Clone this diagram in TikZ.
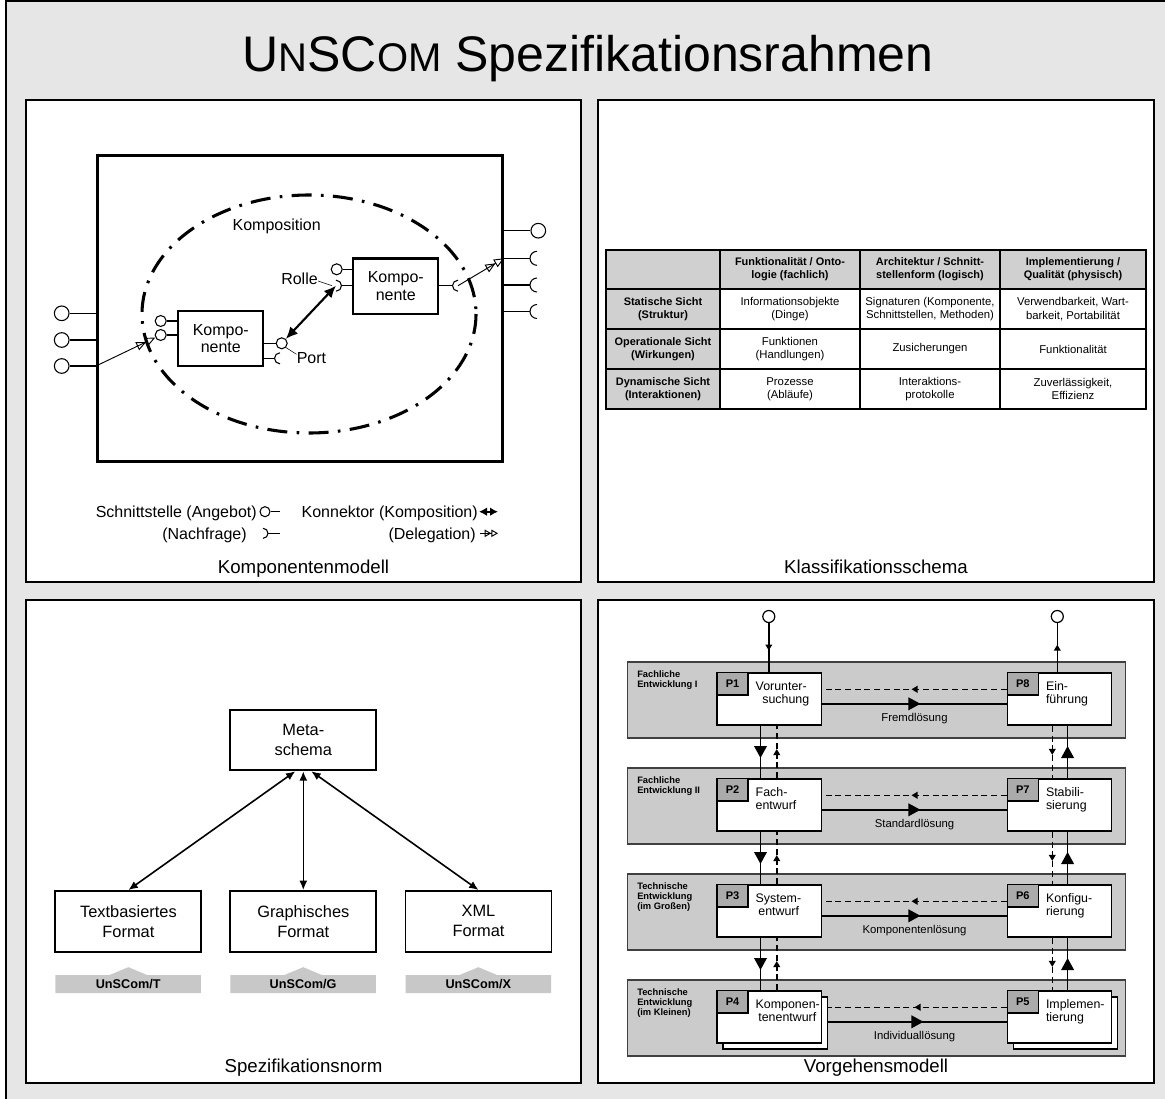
\documentclass[tikz,border=0pt]{standalone}
\usepackage{fontspec}
\setmainfont{Liberation Sans}
\usetikzlibrary{arrows.meta,decorations.markings}
\newcommand\fsz[2]{\fontsize{#1}{#2}\selectfont}
\definecolor{grund}{HTML}{E6E6E6}
\definecolor{bandgrau}{HTML}{CBCBCB}
\definecolor{reitergrau}{HTML}{ABABAB}
\definecolor{kopfgrau}{HTML}{D0D0D0}
\definecolor{balkengrau}{HTML}{C8C8C8}
\tikzset{
  panel/.style={draw=black, line width=0.9pt, fill=white},
  plabel/.style={font=\fsz{14}{16}, anchor=base, inner sep=0pt},
  % Komponentenmodell
  huelle/.style={draw, line width=2pt, minimum width=304pt, minimum height=229.5pt, inner sep=0pt},
  komp/.style={draw, line width=1.6pt, fill=white, minimum width=63.75pt, minimum height=41.5pt, align=center, font=\fsz{12}{13}, inner sep=0pt},
  aport/.style={circle, draw, line width=0.8pt, fill=white, inner sep=0pt, minimum size=11pt},
  iport/.style={aport, minimum size=8.25pt},
  legport/.style={aport, minimum size=7.5pt},
  pline/.style={line width=0.8pt},
  deleg/.style={line width=0.7pt, -{Triangle[open,length=7.5pt,width=6.5pt]Triangle[open,length=7.5pt,width=6.5pt]}},
  legdeleg/.style={line width=0.7pt, -{Triangle[open,length=5pt,width=5.5pt]Triangle[open,length=5pt,width=5.5pt]}},
  kompo/.style={line width=1.6pt, {Latex[length=9pt,width=8pt]}-{Latex[length=9pt,width=8pt]}},
  legkompo/.style={line width=1.2pt, {Latex[length=6pt,width=6.5pt]}-{Latex[length=6pt,width=6.5pt]}},
  lbl/.style={font=\fsz{12}{14}, inner sep=0pt},
  leader/.style={line width=0.4pt},
  % Klassifikationsschema
  tcell/.style={align=center, font=\fsz{8.5}{10}, inner sep=0pt},
  thead/.style={align=center, font=\bfseries\fsz{8.2}{10}, inner sep=0pt},
  % Spezifikationsnorm
  fmt/.style={draw, line width=1.4pt, fill=white, minimum width=109.5pt, minimum height=45.5pt, align=center, font=\fsz{12.3}{15}, inner sep=0pt},
  bidir/.style={line width=1.2pt, {Latex[length=7pt,width=6pt]}-{Latex[length=7pt,width=6pt]}},
  barlbl/.style={font=\bfseries\fsz{9.5}{10}, inner sep=0pt},
  % Vorgehensmodell
  bandst/.style={draw=black!75, line width=0.8pt, fill=bandgrau},
  pbox/.style={draw, fill=white, line width=1.1pt, minimum width=78.2pt, minimum height=39.3pt, inner sep=0pt},
  reiter/.style={draw, fill=reitergrau, line width=0.9pt, minimum width=23.25pt, minimum height=16.8pt, inner sep=0pt, font=\bfseries\fsz{8.3}{9}},
  ptext/.style={align=left, font=\fsz{9.3}{9.9}, inner sep=0pt, anchor=north west},
  rowlbl/.style={align=left, font=\bfseries\fsz{7}{7.75}, inner sep=0pt, anchor=north west},
  loes/.style={font=\fsz{8.5}{10}, inner sep=0pt},
  ioc/.style={circle, draw, fill=white, line width=0.9pt, minimum size=9pt, inner sep=0pt},
  midbig/.style={postaction={decorate}, decoration={markings, mark=at position 0.5 with {\arrow[xshift=4.5pt]{Triangle[length=9pt,width=9.5pt]}}}},
  midsmall/.style={postaction={decorate}, decoration={markings, mark=at position 0.5 with {\arrow[xshift=2.2pt]{Triangle[length=4.5pt,width=5pt]}}}},
  fest/.style={line width=1.1pt},
  strich/.style={line width=1.1pt, dash pattern=on 4.5pt off 2.8pt},
}
\begin{document}
\begin{tikzpicture}[x=0.75pt,y=-0.75pt]
\path[use as bounding box] (0,0) rectangle (1165,1099);
\fill[grund] (6,1.5) rectangle (1165,1099);
\draw[line width=1.5pt] (6,1099) -- (6,1.5) -- (1165,1.5);

% Titel
\node[anchor=base, font=\fsz{37.5}{40}, inner sep=0pt] (titel) at (588,72)
  {U{\fsz{30}{30}N}SC{\fsz{30}{30}OM} Spezifikationsrahmen};

% Felder
\draw[panel] (26,100) rectangle (581,582);
\draw[panel] (598,100) rectangle (1154,582);
\draw[panel] (26,600) rectangle (581,1083);
\draw[panel] (598,600) rectangle (1154,1083);
\node[plabel] (lab1) at (303.5,573) {Komponentenmodell};
\node[plabel] (lab2) at (876,573) {Klassifikationsschema};
\node[plabel] (lab3) at (303.5,1072) {Spezifikationsnorm};
\node[plabel] (lab4) at (876,1072) {Vorgehensmodell};

% ---------------- Komponentenmodell ----------------
\node[huelle] (huelle) at (300,308.7) {};
\draw[line width=2.3pt, dash pattern=on 15pt off 7pt on 2pt off 7pt] (309,314) ellipse[x radius=167, y radius=119];
\node[lbl] (kompos) at (276.7,226) {Komposition};

% linke Außenports
\foreach \n/\y in {pl1/313.3,pl2/340,pl3/366}{
  \node[aport] (\n) at (61.7,\y) {};
  \draw[pline] (\n) -- (\n -| huelle.west);
}
% rechte Außenports
\node[aport] (pr1) at (538.3,230.7) {};
\draw[pline] (huelle.east |- pr1) -- (pr1);
\foreach \n/\y in {sr2/258.3,sr3/285,sr4/311.5}{
  \coordinate (\n) at (537,\y);
  \draw[pline] (huelle.east |- \n) -- ([xshift=-5.25pt]\n);
  \draw[pline] (\n) ++(0,7) arc[start angle=90,end angle=270,radius=7];
}

% Komponenten
\node[komp] (k1) at (220.8,338.3) {Kompo-\\nente};
\node[komp] (k2) at (395.8,286.2) {Kompo-\\nente};

% Ports von k1
\node[iport] (c1a) at (160.7,321) {};
\node[iport] (c1b) at (160.7,335) {};
\draw[pline] (c1a) -- (c1a -| k1.west);
\draw[pline] (c1b) -- (c1b -| k1.west);
\node[iport] (c1c) at (281.7,343.3) {};
\draw[pline] (k1.east |- c1c) -- (c1c);
\coordinate (s1) at (280,358.3);
\draw[pline] (k1.east |- s1) -- ([xshift=-4.125pt]s1);
\draw[pline] (s1) ++(0,5.5) arc[start angle=90,end angle=270,radius=5.5];

% Ports von k2
\node[iport] (c2a) at (336.7,269.3) {};
\draw[pline] (c2a) -- (c2a -| k2.west);
\coordinate (s2) at (336,285.7);
\draw[pline] ([xshift=4.125pt]s2) -- (k2.west |- s2);
\draw[pline] (s2) ++(0,5.5) arc[start angle=90,end angle=-90,radius=5.5];
\coordinate (s3) at (458,285.7);
\draw[pline] (k2.east |- s3) -- ([xshift=-4.125pt]s3);
\draw[pline] (s3) ++(0,5.5) arc[start angle=90,end angle=270,radius=5.5];

% Konnektoren
\draw[deleg] (huelle.west |- pl3) -- (c1b);
\draw[deleg] (s3) -- (huelle.east |- sr2);
\draw[kompo] (c1c) -- (s2);

\node[lbl, anchor=east] (rolle) at (318,278.3) {Rolle};
\draw[leader] ([yshift=-2pt]rolle.east) -- ([xshift=-3pt]s2);
\node[lbl, anchor=west] (portlbl) at (296.5,358.3) {Port};
\draw[leader] ([yshift=3pt]portlbl.west) -- (c1c.south east);

% Legende
\node[lbl, anchor=base east] (lgA) at (257,517) {Schnittstelle (Angebot)};
\node[legport] (lgc) at (265,511.7) {};
\coordinate (lgc2) at (280,511.7);
\draw[pline] (lgc) -- (lgc2);
\node[lbl, anchor=base east] (lgN) at (247,539) {(Nachfrage)};
\coordinate (lgs) at (263,533.3);
\coordinate (lgs2) at (280,533.3);
\draw[pline] (lgs) ++(0,5) arc[start angle=90,end angle=-90,radius=5];
\draw[pline] ([xshift=3.75pt]lgs) -- (lgs2);
\node[lbl, anchor=base east] (lgK) at (478,517) {Konnektor (Komposition)};
\coordinate (lgk1) at (479,511.7);
\coordinate (lgk2) at (498,511.7);
\draw[legkompo] (lgk1) -- (lgk2);
\node[lbl, anchor=base east] (lgD) at (476,539) {(Delegation)};
\coordinate (lgd1) at (480,533.3);
\coordinate (lgd2) at (498,533.3);
\draw[legdeleg] (lgd1) -- (lgd2);

% ---------------- Klassifikationsschema ----------------
\fill[kopfgrau] (606,250) rectangle (1146,289);
\fill[kopfgrau] (606,289) rectangle (720,409);
\draw[line width=1.2pt] (720,250) -- (720,409) (860,250) -- (860,409) (1000,250) -- (1000,409)
  (606,289) -- (1146,289) (606,329) -- (1146,329) (606,369) -- (1146,369);
\draw[line width=1.4pt] (606,250) rectangle (1146,409);

\node[thead] (t01) at (790,269.5) {Funktionalität / Onto-\\logie (fachlich)};
\node[thead] (t02) at (930,269.5) {Architektur / Schnitt-\\stellenform (logisch)};
\node[thead] (t03) at (1073,269.5) {Implementierung /\\Qualität (physisch)};
\node[thead] (t10) at (663,309) {Statische Sicht\\(Struktur)};
\node[thead] (t20) at (663,349) {Operationale Sicht\\(Wirkungen)};
\node[thead] (t30) at (663,389) {Dynamische Sicht\\(Interaktionen)};
\node[tcell] (t11) at (790,309) {Informationsobjekte\\(Dinge)};
\node[tcell] (t12) at (930,309) {Signaturen (Komponente,\\Schnittstellen, Methoden)};
\node[tcell] (t13) at (1073,309) {Verwendbarkeit, Wart-\\barkeit, Portabilität};
\node[tcell] (t21) at (790,349) {Funktionen\\(Handlungen)};
\node[tcell] (t22) at (930,349) {Zusicherungen};
\node[tcell] (t23) at (1073,349) {Funktionalität};
\node[tcell] (t31) at (790,389) {Prozesse\\(Abläufe)};
\node[tcell] (t32) at (930,389) {Interaktions-\\protokolle};
\node[tcell] (t33) at (1073,389) {Zuverlässigkeit,\\Effizienz};

% ---------------- Spezifikationsnorm ----------------
\node[fmt] (meta) at (303.3,740) {Meta-\\schema};
\node[fmt] (ftxt) at (128.4,921.3) {Textbasiertes\\Format};
\node[fmt] (fgra) at (303.3,921.3) {Graphisches\\Format};
\node[fmt] (fxml) at (478.5,921.3) {XML\\Format};
\draw[bidir] ([xshift=-6pt]meta.south) -- (ftxt.north);
\draw[bidir] (meta.south) -- (fgra.north);
\draw[bidir] ([xshift=6pt]meta.south) -- (fxml.north);
\foreach \dx/\t in {0/T,174.9/G,350.1/X}{
  \fill[balkengrau] (55.4+\dx,993) -- (55.4+\dx,975) -- (109.5+\dx,975) -- (128.3+\dx,967.2)
    -- (147+\dx,975) -- (200.9+\dx,975) -- (200.9+\dx,993) -- cycle;
  \node[barlbl] (bar\t) at (128.2+\dx,984.3) {UnSCom/\t};
}

% ---------------- Vorgehensmodell ----------------
\foreach \yt in {662,768,874,980}{
  \draw[bandst] (627.6,\yt) rectangle (1125.5,\yt+76);
}
\node[rowlbl] (r1) at (637,670) {Fachliche\\Entwicklung I};
\node[rowlbl] (r2) at (637,776) {Fachliche\\Entwicklung II};
\node[rowlbl] (r3) at (637,882) {Technische\\Entwicklung\\(im Großen)};
\node[rowlbl] (r4) at (637,988) {Technische\\Entwicklung\\(im Kleinen)};

\node[pbox] (p4b) at (775.3,1023) {};
\node[pbox] (p5b) at (1065.6,1023) {};
\node[pbox] (p1) at (769.3,699) {};
\node[pbox] (p2) at (769.3,805) {};
\node[pbox] (p3) at (769.3,911) {};
\node[pbox] (p4) at (769.3,1017) {};
\node[pbox] (p8) at (1059.6,699) {};
\node[pbox] (p7) at (1059.6,805) {};
\node[pbox] (p6) at (1059.6,911) {};
\node[pbox] (p5) at (1059.6,1017) {};

\foreach \p/\t in {p1/P1,p2/P2,p3/P3,p4/P4,p5/P5,p6/P6,p7/P7,p8/P8}{
  \node[reiter, anchor=north west] (\p r) at (\p.north west) {\t};
}
\node[ptext] (p1x) at ([xshift=29.25pt,yshift=-7pt]p1.north west) {Vorunter-\\\hspace*{5pt}suchung};
\node[ptext] (p2x) at ([xshift=29.25pt,yshift=-7pt]p2.north west) {Fach-\\entwurf};
\node[ptext] (p3x) at ([xshift=29.25pt,yshift=-7pt]p3.north west) {System-\\\hspace*{2pt}entwurf};
\node[ptext] (p4x) at ([xshift=29.25pt,yshift=-7pt]p4.north west) {Komponen-\\\hspace*{2pt}tenentwurf};
\node[ptext] (p8x) at ([xshift=29.25pt,yshift=-7pt]p8.north west) {Ein-\\führung};
\node[ptext] (p7x) at ([xshift=29.25pt,yshift=-7pt]p7.north west) {Stabili-\\sierung};
\node[ptext] (p6x) at ([xshift=29.25pt,yshift=-7pt]p6.north west) {Konfigu-\\rierung};
\node[ptext] (p5x) at ([xshift=29.25pt,yshift=-7pt]p5.north west) {Implemen-\\tierung};

% waagerechte Verbindungen
\foreach \l/\r in {p1/p8,p2/p7,p3/p6}{
  \draw[strich, midsmall] ([yshift=7.3pt]\r.west) -- ([yshift=7.3pt]\l.east);
  \draw[fest, midbig] ([yshift=-3.6pt]\l.east) -- ([yshift=-3.6pt]\r.west);
}
\draw[strich, midsmall] ([yshift=7.3pt]p5.west) -- ([yshift=7.3pt]p5.west -| p4b.east);
\draw[fest, midbig] ([yshift=-3.6pt]p5.west -| p4b.east) -- ([yshift=-3.6pt]p5.west);
\node[loes] (l1) at (914.5,718.5) {Fremdlösung};
\node[loes] (l2) at (914.5,824.5) {Standardlösung};
\node[loes] (l3) at (914.5,930.5) {Komponentenlösung};
\node[loes] (l4) at (914.5,1037) {Individuallösung};

% senkrechte Verbindungen
\foreach \a/\b in {p1/p2,p2/p3,p3/p4}{
  \draw[fest, midbig] ([xshift=-6.6pt]\a.south) -- ([xshift=-6.6pt]\b.north);
  \draw[strich, midsmall] ([xshift=5.6pt]\b.north) -- ([xshift=5.6pt]\a.south);
}
\foreach \a/\b in {p8/p7,p7/p6,p6/p5}{
  \draw[strich, midsmall] ([xshift=-5.5pt]\a.south) -- ([xshift=-5.5pt]\b.north);
  \draw[fest, midbig] ([xshift=6pt]\b.north) -- ([xshift=6pt]\a.south);
}

% Ein- und Ausgang
\node[ioc] (ein) at (768.8,616.5) {};
\draw[fest, midsmall] (ein) -- (ein |- p1.north);
\node[ioc] (aus) at (1057.3,616.5) {};
\draw[fest, midsmall] (aus |- p8.north) -- (aus);
\end{tikzpicture}
\end{document}
